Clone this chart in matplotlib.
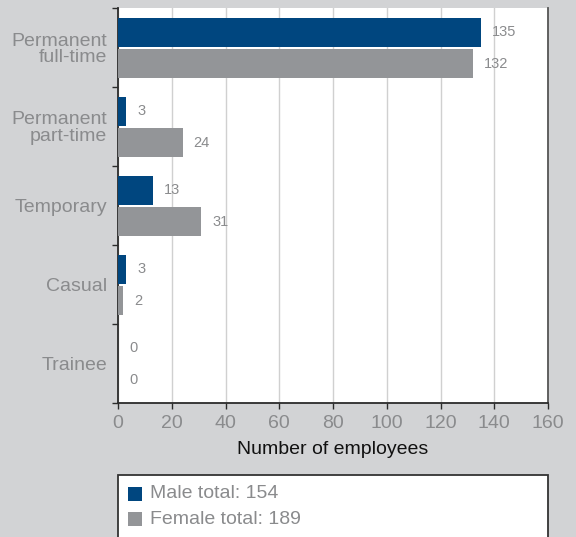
import matplotlib
matplotlib.use("Agg")
import matplotlib.pyplot as plt
from matplotlib.patches import Rectangle
import numpy as np

categories = ["Permanent\nfull-time", "Permanent\npart-time", "Temporary", "Casual", "Trainee"]
male = [135, 3, 13, 3, 0]
female = [132, 24, 31, 2, 0]
male_total = 154
female_total = 189
x_ticks = [0, 20, 40, 60, 80, 100, 120, 140, 160]

NAVY = "#00467f"
GREY = "#939598"
BG = "#d2d3d5"
TEXT_GREY = "#8a8b8d"
SPINE = "#2b2b2b"

plt.rcParams["font.family"] = ["Liberation Sans", "DejaVu Sans"]

W, H = 576, 537
fig = plt.figure(figsize=(W / 100, H / 100), dpi=100, facecolor=BG)
ax = fig.add_axes([118 / W, 1 - 403 / H, (548 - 118) / W, (403 - 8) / H])
ax.set_facecolor("white")

idx = np.arange(len(categories))
bar_h = 0.36
ax.barh(idx + 0.31, male, height=bar_h, color=NAVY, zorder=3)
ax.barh(idx + 0.705, female, height=bar_h, color=GREY, zorder=3)

for i, (m, f) in enumerate(zip(male, female)):
    ax.annotate(str(m), (m, i + 0.31), xytext=(8, 0), textcoords="offset points",
                va="center", ha="left", fontsize=10.5, color=TEXT_GREY)
    ax.annotate(str(f), (f, i + 0.705), xytext=(8, 0), textcoords="offset points",
                va="center", ha="left", fontsize=10.5, color=TEXT_GREY)

ax.set_xlim(0, 160)
ax.set_ylim(len(categories), 0)
ax.set_xticks(x_ticks)
ax.set_xticklabels([str(t) for t in x_ticks], fontsize=14, color=TEXT_GREY)
ax.tick_params(axis="x", direction="out", length=4, width=1, color=SPINE, pad=5)

# category boundaries as major ticks, labels on minor ticks at slot centres
ax.set_yticks(np.arange(len(categories) + 1))
ax.set_yticklabels([])
ax.set_yticks(idx + 0.5, minor=True)
ax.set_yticklabels(categories, minor=True, fontsize=14, color=TEXT_GREY,
                   linespacing=0.95)
ax.tick_params(axis="y", which="major", direction="out", length=4, width=1, color=SPINE)
ax.tick_params(axis="y", which="minor", length=0, pad=8)

ax.grid(axis="x", color="#d0d0d0", linewidth=1, zorder=0)
ax.set_axisbelow(True)

for side in ("left", "bottom"):
    ax.spines[side].set_color(SPINE)
    ax.spines[side].set_linewidth(1.3)
ax.spines["right"].set_color("#555555")
ax.spines["right"].set_linewidth(1.3)
ax.spines["top"].set_visible(False)

ax.set_xlabel("Number of employees", fontsize=14, color="#111111", labelpad=6)

# legend box running off the bottom edge
box = Rectangle((118 / W, -0.05), (548 - 118) / W, 1 - 475 / H + 0.05,
                transform=fig.transFigure, facecolor="white", edgecolor="#333333",
                linewidth=1.3)
fig.patches.append(box)
entries = [(NAVY, f"Male total: {male_total}", 494), (GREY, f"Female total: {female_total}", 519)]
for color, label, yc in entries:
    fig.patches.append(Rectangle((128 / W, 1 - (yc + 7) / H), 14 / W, 14 / H,
                                 transform=fig.transFigure, facecolor=color,
                                 edgecolor="none"))
    fig.text(150 / W, 1 - yc / H, label, fontsize=14, color=TEXT_GREY,
             va="center", ha="left")

fig.savefig("out.png", dpi=100, facecolor=BG)
